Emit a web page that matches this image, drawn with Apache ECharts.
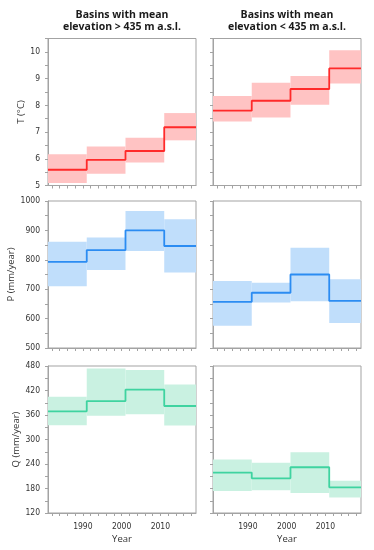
<!DOCTYPE html>
<html>
<head>
<meta charset="utf-8">
<script src="https://cdn.jsdelivr.net/npm/echarts@6/dist/echarts.min.js"></script>
<style>html,body{margin:0;padding:0;background:#fff}#c{width:374px;height:550px}</style>
</head>
<body>
<div id="c"></div>
<script>
// ---- data ----
const periodEdges = [1981, 1991, 2001, 2011, 2019.2];
const xTickYears = [1982,1984,1986,1988,1990,1992,1994,1996,1998,2000,2002,2004,2006,2008,2010,2012,2014,2016,2018];
const xLabelYears = [1990, 2000, 2010];
const columnTitles = ['Basins with mean\nelevation > 435 m a.s.l.', 'Basins with mean\nelevation < 435 m a.s.l.'];

// T (°C)
const tHighMean = [5.59, 5.96, 6.29, 7.18];
const tHighLow  = [5.09, 5.44, 5.86, 6.69];
const tHighUp   = [6.17, 6.46, 6.79, 7.71];
const tLowMean  = [7.80, 8.17, 8.61, 9.38];
const tLowLow   = [7.39, 7.54, 8.02, 8.82];
const tLowUp    = [8.35, 8.84, 9.10, 10.06];
// P (mm/year)
const pHighMean = [793, 833, 900, 847];
const pHighLow  = [710, 765, 830, 757];
const pHighUp   = [861, 876, 966, 938];
const pLowMean  = [657, 688, 750, 660];
const pLowLow   = [576, 655, 659, 585];
const pLowUp    = [728, 722, 841, 734];
// Q (mm/year)
const qHighMean = [369, 394, 422, 382];
const qHighLow  = [335, 358, 362, 334];
const qHighUp   = [405, 474, 470, 435];
const qLowMean  = [219, 205, 232, 183];
const qLowLow   = [174, 176, 169, 158];
const qLowUp    = [251, 243, 269, 199];

// axis ticks
const tTicks = [5,5.5,6,6.5,7,7.5,8,8.5,9,9.5,10,10.5];
const tLabels = [5,6,7,8,9,10];
const pTicks = [500,550,600,650,700,750,800,850,900,950,1000];
const pLabels = [500,600,700,800,900,1000];
const qTicks = [120,150,180,210,240,270,300,330,360,390,420,450,480];
const qLabels = [120,180,240,300,360,420,480];

// ---- layout / style ----
const rows = [
  {name:'T (°C)', min:5, max:10.5, ticks:tTicks, labels:tLabels, gap:22, line:'#ff2a2a', band:'#ffc3c3',
   sets:[[tHighMean,tHighLow,tHighUp],[tLowMean,tLowLow,tLowUp]]},
  {name:'P (mm/year)', min:500, max:1000, ticks:pTicks, labels:pLabels, gap:30, line:'#2b8cf2', band:'#c0defb',
   sets:[[pHighMean,pHighLow,pHighUp],[pLowMean,pLowLow,pLowUp]]},
  {name:'Q (mm/year)', min:120, max:480, ticks:qTicks, labels:qLabels, gap:26, line:'#3fd3a0', band:'#c9f1e1',
   sets:[[qHighMean,qHighLow,qHighUp],[qLowMean,qLowLow,qLowUp]]}
];
const rowTops = [38.5, 201, 366];
const rowH = 147;
const colLefts = [48, 213];
const colW = 148;
const axisColor = '#a3a3a3';
const labelFont = "'DejaVu Sans Condensed','Liberation Sans',sans-serif";
const nameFont = "'Open Sans',sans-serif";
const fmt = v => String(v);

const grids = [], xAxes = [], yAxes = [], series = [];
let gi = 0;
rows.forEach((row, r) => {
  colLefts.forEach((left, c) => {
    grids.push({left:left, top:rowTops[r], width:colW, height:rowH, show:true, borderColor:axisColor, borderWidth:1, containLabel:false});
    const bottom = r === rows.length - 1;
    xAxes.push({
      type:'value', gridIndex:gi, min:periodEdges[0], max:periodEdges[periodEdges.length-1],
      axisLine:{show:true, onZero:false, lineStyle:{color:axisColor}},
      axisTick:{show:true, length:3, customValues:xTickYears, lineStyle:{color:axisColor}},
      axisLabel:{show:bottom, customValues:xLabelYears, formatter:fmt, margin:9, fontSize:8.5, color:'#333', fontFamily:labelFont},
      splitLine:{show:false},
      name: bottom ? 'Year' : '', nameLocation:'middle', nameGap:21,
      nameTextStyle:{fontSize:9.5, color:'#333', fontFamily:nameFont}
    });
    yAxes.push({
      type:'value', gridIndex:gi, min:row.min, max:row.max,
      axisLine:{show:true, onZero:false, lineStyle:{color:axisColor}},
      axisTick:{show:true, length:3, customValues:row.ticks, lineStyle:{color:axisColor}},
      axisLabel:{show:c===0, customValues:row.labels, formatter:fmt, margin:8, fontSize:8.5, color:'#333', fontFamily:labelFont},
      splitLine:{show:false},
      name: c===0 ? row.name : '', nameLocation:'middle', nameRotate:90, nameGap:row.gap,
      nameTextStyle:{fontSize:9.5, color:'#333', fontFamily:nameFont}
    });
    const [mean, low, up] = row.sets[c];
    const bandData = mean.map((m, i) => [periodEdges[i], periodEdges[i+1], low[i], up[i]]);
    const lineData = mean.map((m, i) => [periodEdges[i], m]);
    lineData.push([periodEdges[periodEdges.length-1], mean[mean.length-1]]);
    const bandColor = row.band;
    series.push({
      type:'custom', xAxisIndex:gi, yAxisIndex:gi, data:bandData, encode:{x:[0,1], y:[2,3]},
      silent:true,
      renderItem:(params, api) => {
        const p0 = api.coord([api.value(0), api.value(3)]);
        const p1 = api.coord([api.value(1), api.value(2)]);
        return {type:'rect', shape:{x:p0[0], y:p0[1], width:p1[0]-p0[0], height:p1[1]-p0[1]}, style:{fill:bandColor}};
      }
    });
    series.push({
      type:'line', xAxisIndex:gi, yAxisIndex:gi, data:lineData, step:'end', showSymbol:false, symbol:'none',
      lineStyle:{color:row.line, width:1.8}, silent:true, z:3
    });
    gi++;
  });
});

const graphics = columnTitles.map((t, c) => ({
  type:'text', x: colLefts[c] + colW/2, y: 8.5,
  style:{text:t, textAlign:'center', textVerticalAlign:'top', font:"bold 10.5px 'Open Sans', sans-serif", lineHeight:12.5, fill:'#1a1a1a'}
}));

const chart = echarts.init(document.getElementById('c'), null, {renderer:'canvas'});
chart.setOption({
  animation:false,
  backgroundColor:'#fff',
  grid:grids, xAxis:xAxes, yAxis:yAxes, series:series, graphic:graphics
});
</script>
</body>
</html>
